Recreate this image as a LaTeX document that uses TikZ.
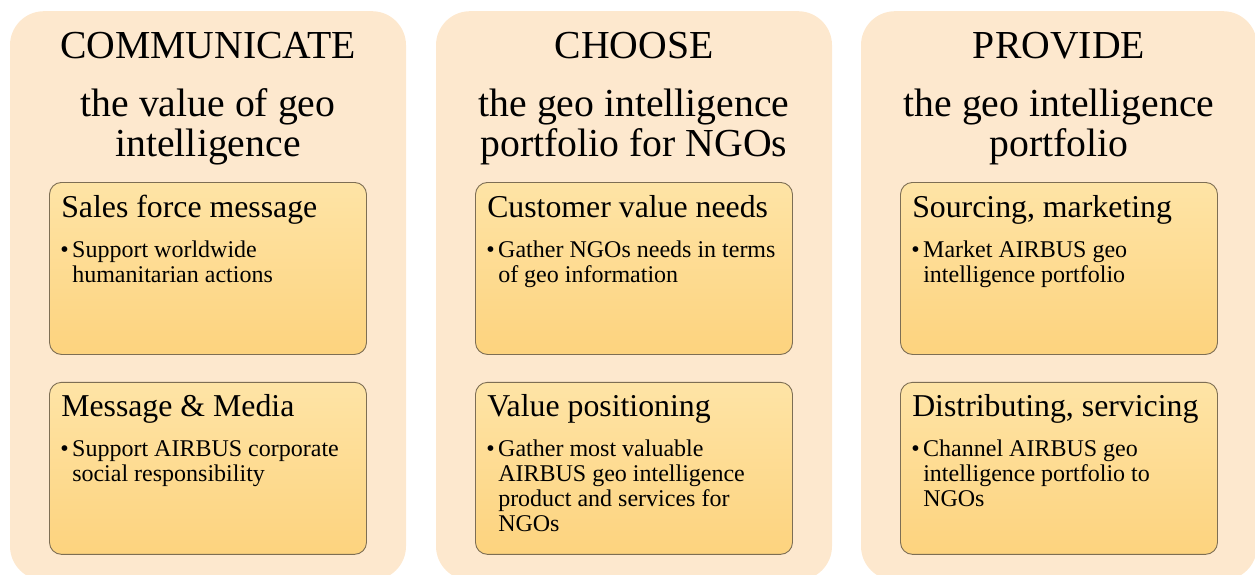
\documentclass[tikz,border=0pt]{standalone}
\usepackage{fontspec}
\setmainfont{Liberation Serif}
\usepackage{tikz}
\usetikzlibrary{positioning}
\definecolor{panelfill}{RGB}{253,232,206}
\definecolor{boxtop}{RGB}{254,228,166}
\definecolor{boxbottom}{RGB}{253,211,126}
\definecolor{boxline}{RGB}{125,110,84}
\newcommand{\bulletlist}[1]{\begin{tabular}[t]{@{}p{12pt}@{}l@{}}\textbullet & #1\end{tabular}}

\begin{document}
\begin{tikzpicture}[x=1pt,y=-1pt,
  panel/.style={fill=panelfill, rounded corners=34pt, minimum width=396pt, minimum height=569pt, inner sep=0pt, anchor=north},
  subbox/.style={draw=boxline, line width=0.9pt, top color=boxtop, bottom color=boxbottom, rounded corners=12pt, minimum width=317pt, minimum height=172pt, inner sep=0pt},
  title/.style={font=\fontsize{39.7}{41}\selectfont, anchor=base, inner sep=0pt},
  subtitle/.style={font=\fontsize{39.7}{40}\selectfont, align=center, anchor=base, inner sep=0pt},
  head/.style={font=\fontsize{31.8}{33}\selectfont, anchor=base west, inner sep=0pt},
  bullets/.style={font=\fontsize{24}{25}\selectfont, anchor=base west, inner sep=0pt}]
  \useasboundingbox (0,0) rectangle (1255,575);
  \clip (0,0) rectangle (1255,575);

  % panels
  \node[panel] (p1) at (208,11) {};
  \node[panel] (p2) at (634,11) {};
  \node[panel] (p3) at (1059,11) {};

  % headings of the panels (subtitle base = its last line)
  \node[title] (t1) at ([yshift=-48pt]p1.north) {COMMUNICATE};
  \node[title] (t2) at ([yshift=-48pt]p2.north) {CHOOSE};
  \node[title] (t3) at ([yshift=-48pt]p3.north) {PROVIDE};
  \node[subtitle] (s1) at ([yshift=-146pt]p1.north) {the value of geo\\intelligence};
  \node[subtitle] (s2) at ([yshift=-146pt]p2.north) {the geo intelligence\\portfolio for NGOs};
  \node[subtitle] (s3) at ([yshift=-146pt]p3.north) {the geo intelligence\\portfolio};

  % inner boxes
  \node[subbox, below=171pt of p1.north] (b11) {};
  \node[subbox, below=27pt of b11] (b12) {};
  \node[subbox, below=171pt of p2.north] (b21) {};
  \node[subbox, below=27pt of b21] (b22) {};
  \node[subbox, below=171pt of p3.north] (b31) {};
  \node[subbox, below=27pt of b31] (b32) {};

  % texts of the inner boxes
  \node[head] (h11) at ([xshift=12pt,yshift=-35pt]b11.north west) {Sales force message};
  \node[bullets] (l11) at ([xshift=11pt,yshift=-75pt]b11.north west)
    {\bulletlist{Support worldwide\\ & humanitarian actions}};
  \node[head] (h12) at ([xshift=12pt,yshift=-35pt]b12.north west) {Message \& Media};
  \node[bullets] (l12) at ([xshift=11pt,yshift=-75pt]b12.north west)
    {\bulletlist{Support AIRBUS corporate\\ & social responsibility}};

  \node[head] (h21) at ([xshift=12pt,yshift=-35pt]b21.north west) {Customer value needs};
  \node[bullets] (l21) at ([xshift=11pt,yshift=-75pt]b21.north west)
    {\bulletlist{Gather NGOs needs in terms\\ & of geo information}};
  \node[head] (h22) at ([xshift=12pt,yshift=-35pt]b22.north west) {Value positioning};
  \node[bullets] (l22) at ([xshift=11pt,yshift=-75pt]b22.north west)
    {\bulletlist{Gather most valuable\\ & AIRBUS geo intelligence\\ & product and services for\\ & NGOs}};

  \node[head] (h31) at ([xshift=12pt,yshift=-35pt]b31.north west) {Sourcing, marketing};
  \node[bullets] (l31) at ([xshift=11pt,yshift=-75pt]b31.north west)
    {\bulletlist{Market AIRBUS geo\\ & intelligence portfolio}};
  \node[head] (h32) at ([xshift=12pt,yshift=-35pt]b32.north west) {Distributing, servicing};
  \node[bullets] (l32) at ([xshift=11pt,yshift=-75pt]b32.north west)
    {\bulletlist{Channel AIRBUS geo\\ & intelligence portfolio to\\ & NGOs}};
\end{tikzpicture}
\end{document}
